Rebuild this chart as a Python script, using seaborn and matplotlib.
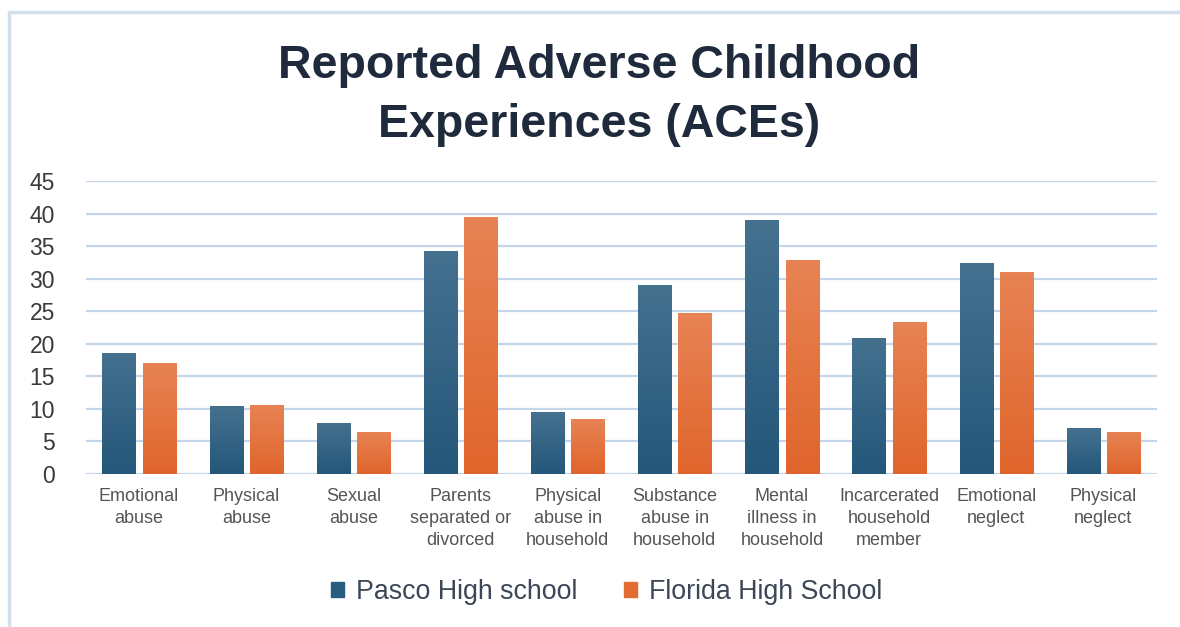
import numpy as np
import pandas as pd
import matplotlib
matplotlib.use("Agg")
import matplotlib.pyplot as plt
import matplotlib.colors as mcolors
from matplotlib.patches import Rectangle
import seaborn as sns

categories = [
    "Emotional\nabuse", "Physical\nabuse", "Sexual\nabuse",
    "Parents\nseparated or\ndivorced", "Physical\nabuse in\nhousehold",
    "Substance\nabuse in\nhousehold", "Mental\nillness in\nhousehold",
    "Incarcerated\nhousehold\nmember", "Emotional\nneglect", "Physical\nneglect",
]
pasco = [18.6, 10.4, 7.8, 34.3, 9.5, 29.0, 39.0, 20.9, 32.4, 7.0]
florida = [17.0, 10.6, 6.5, 39.4, 8.5, 24.7, 32.9, 23.3, 31.1, 6.5]
series = ["Pasco High school", "Florida High School"]
yticks = [0, 5, 10, 15, 20, 25, 30, 35, 40, 45]

df = pd.DataFrame({
    "category": categories * 2,
    "value": pasco + florida,
    "school": [series[0]] * len(categories) + [series[1]] * len(categories),
})

blue = "#275d80"
orange = "#e36c35"
grad = {
    blue: ("#24577a", "#45718f"),
    orange: ("#e0652c", "#e78354"),
}

sns.set_theme(style="white")
plt.rcParams["font.family"] = ["Liberation Sans", "DejaVu Sans"]

fig = plt.figure(figsize=(11.8, 6.27), dpi=100)
ax = fig.add_axes([0.0725, 0.2440, 0.908, 0.4673])

sns.barplot(data=df, x="category", y="value", hue="school",
            palette=[blue, orange], width=0.752, gap=0.18,
            saturation=1, ax=ax, legend=False, zorder=3)

# vertical shading inside every bar
for patch in ax.patches:
    fc = mcolors.to_hex(patch.get_facecolor())
    if fc not in grad:
        continue
    dark, light = grad[fc]
    cmap = mcolors.LinearSegmentedColormap.from_list("g", [dark, light])
    x0, y0 = patch.get_x(), patch.get_y()
    w, h = patch.get_width(), patch.get_height()
    img = ax.imshow(np.linspace(0, 1, 64).reshape(-1, 1), cmap=cmap,
                    origin="lower", aspect="auto",
                    extent=[x0, x0 + w, y0, y0 + h], zorder=3.5)
    img.set_clip_path(patch)
    patch.set_edgecolor("none")

ax.set_xlim(-0.5, len(categories) - 0.5)
ax.set_ylim(0, 45)
ax.set_yticks(yticks)
ax.set_yticklabels([str(t) for t in yticks])
ax.grid(axis="y", color="#c5d6ea", linewidth=1.6, zorder=0)
ax.grid(axis="x", visible=False)
for s in ax.spines.values():
    s.set_visible(False)
ax.set_xlabel("")
ax.set_ylabel("")
ax.tick_params(axis="y", length=0, pad=22, labelsize=16.5, labelcolor="#3a3a3a")
ax.tick_params(axis="x", length=0, pad=10, labelsize=13, labelcolor="#555555")
for lbl in ax.get_xticklabels():
    lbl.set_linespacing(1.4)
    lbl.set_verticalalignment("top")

fig.text(0.508, 0.895, "Reported Adverse Childhood", ha="center", va="center",
         fontsize=33.5, fontweight="bold", color="#1f2b3c")
fig.text(0.508, 0.801, "Experiences (ACEs)", ha="center", va="center",
         fontsize=33.5, fontweight="bold", color="#1f2b3c")

handles = [Rectangle((0, 0), 1, 1, color=blue), Rectangle((0, 0), 1, 1, color=orange)]
fig.legend(handles, series, loc="center", bbox_to_anchor=(0.514, 0.056), ncol=2,
           frameon=False, fontsize=19.3, handlelength=0.5, handleheight=0.5,
           handletextpad=0.42, columnspacing=1.75, labelcolor="#3b4756")

# light frame along the top and left edges
fig.add_artist(plt.Line2D([0.0076, 1.0], [0.981, 0.981], color="#d3dfea", linewidth=2.5,
                          transform=fig.transFigure))
fig.add_artist(plt.Line2D([0.0076, 0.0076], [0.0, 0.981], color="#d3dfea", linewidth=2.5,
                          transform=fig.transFigure))

fig.savefig("out.png", dpi=100)
